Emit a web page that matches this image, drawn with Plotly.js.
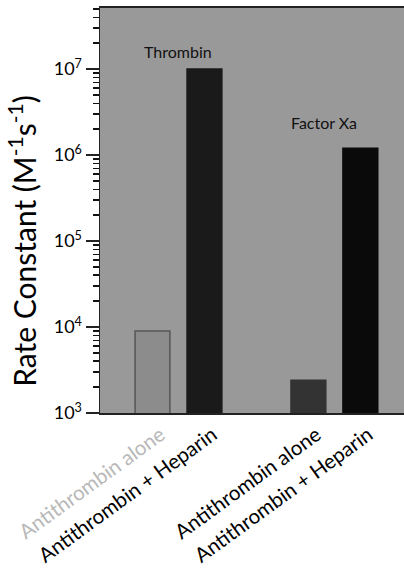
<!DOCTYPE html>
<html><head><meta charset="utf-8">
<script src="https://cdn.plot.ly/plotly-3.0.1.min.js"></script>
<style>html,body{margin:0;padding:0;background:#fff}#c{width:404px;height:571px}</style>
</head><body><div id="c"></div>
<script>
const groups = ["Thrombin", "Factor Xa"];
const conditions = ["Antithrombin alone", "Antithrombin + Heparin"];
const rateThrombin = [9000, 1.0e7];
const rateFactorXa = [2400, 1.2e6];
const barColors = ["#8c8c8c", "#1a1a1a", "#333333", "#0a0a0a"];
const labelColors = ["#b8b8b8", "#000000", "#000000", "#000000"];
const yTickVals = [1e3, 1e4, 1e5, 1e6, 1e7];
const yTickText = ["10<sup>3</sup>", "10<sup>4</sup>", "10<sup>5</sup>", "10<sup>6</sup>", "10<sup>7</sup>"];
const yTitle = "Rate Constant (M<sup>-1</sup>s<sup>-1</sup>)";

const values = [rateThrombin, rateFactorXa];
const xs = [], ys = [], texts = [];
groups.forEach((g, gi) => conditions.forEach((c, ci) => {
  xs.push(gi * 3 + ci); ys.push(values[gi][ci]); texts.push(c);
}));
const ticktext = texts.map((t, i) => `<span style="color:${labelColors[i]}">${t}</span>`);
const minorVals = [];
for (let e = 3; e <= 7; e++) for (let d = 2; d <= 9; d++) minorVals.push(d * Math.pow(10, e));

const trace = {
  type: "bar", x: xs, y: ys, width: 0.67,
  marker: { color: barColors, line: { color: ["#555", "#1a1a1a", "#333", "#0a0a0a"], width: 1.5 } },
  hoverinfo: "skip"
};
const font = "Lato, 'Open Sans', sans-serif";
const layout = {
  width: 404, height: 571,
  margin: { l: 100, r: 0, t: 8, b: 158 },
  paper_bgcolor: "#ffffff", plot_bgcolor: "#999999",
  showlegend: false,
  font: { family: font, color: "#000" },
  xaxis: {
    range: [-1.01, 4.84], tickmode: "array", tickvals: xs, ticktext: ticktext,
    tickangle: -36, ticks: "", showline: true, linecolor: "#222", linewidth: 2, mirror: true,
    showgrid: false, zeroline: false, tickfont: { size: 20.5, family: font }, ticklabelshift: 8
  },
  yaxis: {
    type: "log", range: [3, 7.71], tickmode: "array", tickvals: yTickVals, ticktext: yTickText,
    ticks: "outside", ticklen: 13, tickwidth: 1.5, tickcolor: "#222",
    minor: { tickmode: "array", tickvals: minorVals, ticks: "outside", ticklen: 6, tickwidth: 1.5, tickcolor: "#111", showgrid: false },
    showline: true, linecolor: "#222", linewidth: 1.5, showgrid: false, zeroline: false,
    tickfont: { size: 18, family: font }
  },
  annotations: [
    { x: 0.5, y: 7.2, xref: "x", yref: "y", text: groups[0], showarrow: false, font: { size: 16, family: font, color: "#111" } },
    { x: 3.3, y: 6.38, xref: "x", yref: "y", text: groups[1], showarrow: false, font: { size: 16, family: font, color: "#111" } },
    { x: -0.257, y: 0.425, xref: "paper", yref: "paper", text: yTitle, textangle: -90, showarrow: false,
      xanchor: "center", yanchor: "middle", font: { size: 30, family: font, color: "#000" } }
  ],
  bargap: 0
};
Plotly.newPlot("c", [trace], layout, { staticPlot: true });
</script></body></html>
